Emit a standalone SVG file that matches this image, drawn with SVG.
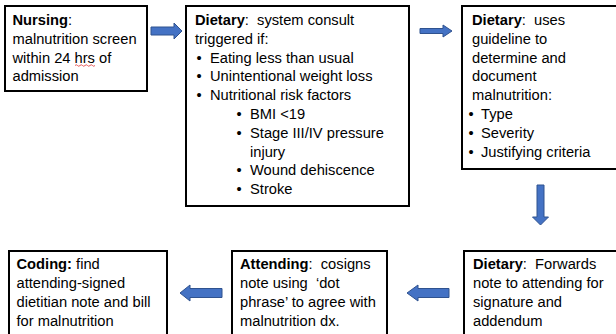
<svg xmlns="http://www.w3.org/2000/svg" width="616" height="334" viewBox="0 0 616 334">
<style>
.box{fill:#fff;stroke:#000;stroke-width:2}
.t{font-family:"Liberation Sans",Arial,sans-serif;font-size:14.7px;fill:#000}
.b{font-weight:bold}
.arr{fill:#4472C4;stroke:#2F528F;stroke-width:1}
</style>
<rect width="616" height="334" fill="#fff"/>
<g id="nursing">
<rect class="box" x="5" y="6" width="142" height="85"/>
<text class="t" x="12.5" y="25"><tspan class="b">Nursing</tspan>:</text>
<text class="t" x="12.5" y="43.8">malnutrition screen</text>
<text class="t" x="12.5" y="62.6">within 24 hrs of</text>
<text class="t" x="12.5" y="81.4">admission</text>
<path d="M75,65.5 q1.25,-1.5 2.5,0 t2.5,0 t2.5,0 t2.5,0 t2.5,0 t2.5,0 t2.5,0 t2.5,0" fill="none" stroke="#e03030" stroke-width="0.8"/>
</g>
<g id="dietary-consult">
<rect class="box" x="186" y="6" width="223" height="200"/>
<text class="t" x="195" y="25"><tspan class="b">Dietary</tspan>:&#160; system consult</text>
<text class="t" x="195" y="43.8">triggered if:</text>
<text class="t" x="196.5" y="62.6">•</text><text class="t" x="210" y="62.6">Eating less than usual</text>
<text class="t" x="196.5" y="81.4">•</text><text class="t" x="210" y="81.4">Unintentional weight loss</text>
<text class="t" x="196.5" y="100.2">•</text><text class="t" x="210" y="100.2">Nutritional risk factors</text>
<text class="t" x="236.5" y="119">•</text><text class="t" x="250" y="119">BMI &lt;19</text>
<text class="t" x="236.5" y="137.8">•</text><text class="t" x="250" y="137.8">Stage III/IV pressure</text>
<text class="t" x="250" y="156.6">injury</text>
<text class="t" x="236.5" y="175.4">•</text><text class="t" x="250" y="175.4">Wound dehiscence</text>
<text class="t" x="236.5" y="194.2">•</text><text class="t" x="250" y="194.2">Stroke</text>
</g>
<g id="dietary-guideline">
<rect class="box" x="462" y="6" width="160" height="163"/>
<text class="t" x="472" y="25"><tspan class="b">Dietary</tspan>:&#160; uses</text>
<text class="t" x="472" y="43.8">guideline to</text>
<text class="t" x="472" y="62.6">determine and</text>
<text class="t" x="472" y="81.4">document</text>
<text class="t" x="472" y="100.2">malnutrition:</text>
<text class="t" x="468.5" y="119">•</text><text class="t" x="481" y="119">Type</text>
<text class="t" x="468.5" y="137.8">•</text><text class="t" x="481" y="137.8">Severity</text>
<text class="t" x="468.5" y="156.6">•</text><text class="t" x="481" y="156.6">Justifying criteria</text>
</g>
<g id="dietary-forwards">
<rect class="box" x="464" y="251" width="160" height="100"/>
<text class="t" x="473" y="269.3"><tspan class="b">Dietary</tspan>:&#160; Forwards</text>
<text class="t" x="473" y="288.1">note to attending for</text>
<text class="t" x="473" y="306.9">signature and</text>
<text class="t" x="473" y="325.7">addendum</text>
</g>
<g id="attending">
<rect class="box" x="232" y="251" width="155" height="100"/>
<text class="t" x="240" y="269.3"><tspan class="b">Attending</tspan>:&#160; cosigns</text>
<text class="t" x="240" y="288.1">note using&#160; ‘dot</text>
<text class="t" x="240" y="306.9">phrase’ to agree with</text>
<text class="t" x="240" y="325.7">malnutrition dx.</text>
</g>
<g id="coding">
<rect class="box" x="9" y="251" width="158" height="100"/>
<text class="t" x="16.5" y="269.3"><tspan class="b">Coding:</tspan> find</text>
<text class="t" x="16.5" y="288.1">attending-signed</text>
<text class="t" x="16.5" y="306.9">dietitian note and bill</text>
<text class="t" x="16.5" y="325.7">for malnutrition</text>
</g>
<g id="connectors">
<polygon class="arr" points="151,27 174,27 174,23 182,31 174,39 174,35 151,35"/>
<polygon class="arr" points="420,28.5 443,28.5 443,25 452,31 443,37 443,33.5 420,33.5"/>
<polygon class="arr" points="537,185 544,185 544,217 548.5,217 540.5,225 532.5,217 537,217"/>
<polygon class="arr" points="449,288.5 418,288.5 418,285 407,293 418,301 418,297.5 449,297.5"/>
<polygon class="arr" points="222,288.5 190,288.5 190,285 180,293 190,301 190,297.5 222,297.5"/>
</g>
</svg>
